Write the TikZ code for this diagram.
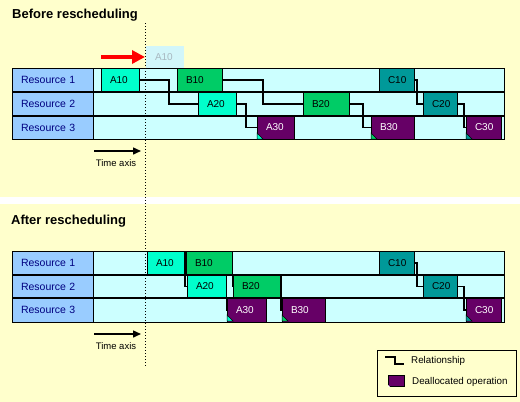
\documentclass[tikz,border=0pt]{standalone}
\usepackage{fontspec}
\setmainfont{Liberation Sans}
\usetikzlibrary{arrows.meta}
\definecolor{bg}{HTML}{FFFFCC}
\definecolor{labblue}{HTML}{99CCFF}
\definecolor{rowc}{HTML}{CCFFFF}
\definecolor{cA}{HTML}{00FFCC}
\definecolor{cB}{HTML}{00CC66}
\definecolor{cC}{HTML}{009999}
\definecolor{cP}{HTML}{660066}
\definecolor{navy}{HTML}{000080}
\definecolor{ghostc}{HTML}{D2F6FA}
\definecolor{ghosttxt}{HTML}{A8B8C0}
\begin{document}
\begin{tikzpicture}[x=1pt,y=-1pt,
  rowst/.style={draw=black, fill=rowc, line width=0.9pt},
  sep/.style={line width=1.8pt},
  lab/.style={draw=black, fill=labblue, text=navy, line width=0.9pt,
    font=\fontsize{10.5}{12}\selectfont, inner xsep=9pt, inner ysep=0pt,
    text width=63pt, align=left, minimum height=24pt, anchor=north west, outer sep=0pt},
  op/.style={draw=black, line width=0.7pt, inner xsep=9pt, inner ysep=0pt, outer sep=0pt,
    align=left, anchor=north west, font=\fontsize{10}{12}\selectfont},
  opA/.style={op, fill=cA},
  opB/.style={op, fill=cB},
  opC/.style={op, fill=cC},
  opP/.style={op, fill=cP, text=white},
  rel/.style={draw=black, line width=1.5pt},
  tri/.style={draw=black, line width=0.5pt},
  title/.style={font=\bfseries\fontsize{13}{15}\selectfont, anchor=base west, inner sep=0pt},
  axtxt/.style={font=\fontsize{9.5}{11}\selectfont, inner sep=0pt},
  legtxt/.style={font=\fontsize{9.8}{11}\selectfont, anchor=west, inner sep=0pt},
  taxis/.style={line width=1.5pt, -{Triangle[length=8pt,width=7pt]}}
]
\useasboundingbox (0,0) rectangle (520,402);
\fill[bg] (0,0) rectangle (520,402);
\fill[white] (0,197) rectangle (520,204);

% ---------------- Before ----------------
\node[title] (t1) at (12,18) {Before rescheduling};

\draw[rowst] (12,68) rectangle (504,92);
\draw[rowst] (12,92) rectangle (504,116);
\draw[rowst] (12,116) rectangle (504,139);
\node[lab] (uR1) at (12,68) {Resource 1};
\node[lab] (uR2) at (12,92) {Resource 2};
\node[lab, minimum height=23pt] (uR3) at (12,116) {Resource 3};

\node[op, fill=ghostc, draw=none, text=ghosttxt, text width=20pt, minimum height=22pt] (ghost) at (146,46) {A10};

\node[opA, text width=20pt, minimum height=24pt] (uA10) at (101,68) {A10};
\node[opB, text width=27pt, minimum height=24pt] (uB10) at (177,68) {B10};
\node[opC, text width=17pt, minimum height=24pt] (uC10) at (379,68) {C10};
\node[opA, text width=20pt, minimum height=24pt] (uA20) at (198,92) {A20};
\node[opB, text width=28pt, minimum height=24pt] (uB20) at (303,92) {B20};
\node[opC, text width=16pt, minimum height=24pt] (uC20) at (423,92) {C20};
\node[opP, text width=19pt, minimum height=23pt] (uA30) at (257,116) {A30};
\node[opP, text width=25pt, minimum height=23pt] (uB30) at (371,116) {B30};
\node[opP, text width=17pt, minimum height=23pt] (uC30) at (466,116) {C30};

\draw[tri, fill=cA] (uA30.south west) -- ++(0,-6) -- ++(6,6) -- cycle;
\draw[tri, fill=cB] (uB30.south west) -- ++(0,-6) -- ++(6,6) -- cycle;
\draw[tri, fill=cC] (uC30.south west) -- ++(0,-6) -- ++(6,6) -- cycle;

\draw[sep] (12,92) -- (504,92);
\draw[sep] (12,116) -- (504,116);

\draw[rel] (uA10.east) -- ++(30,0) |- (uA20.west);
\draw[rel] (uA20.east) -- ++(10,0) |- (uA30.west);
\draw[rel] (uB10.east) -- ++(41,0) |- (uB20.west);
\draw[rel] (uB20.east) -- ++(14,0) |- (uB30.west);
\draw[rel] (uC10.east) -- ++(3,0) |- (uC20.west);
\draw[rel] (uC20.east) -- ++(7,0) |- (uC30.west);

\coordinate (ra1) at (101,57);
\coordinate (ra2) at (145,57);
\draw[red, line width=3.6pt, -{Triangle[length=13pt,width=13pt]}] (ra1) -- (ra2);

\coordinate (ta1) at (94,151);
\coordinate (ta2) at (141,151);
\draw[taxis] (ta1) -- (ta2);
\node[axtxt] (tx1) at (116,163) {Time axis};

% ---------------- After ----------------
\node[title] (t2) at (11,224) {After rescheduling};

\draw[rowst] (12,251) rectangle (504,275);
\draw[rowst] (12,275) rectangle (504,298);
\draw[rowst] (12,298) rectangle (504,322);
\node[lab] (lR1) at (12,251) {Resource 1};
\node[lab, minimum height=23pt] (lR2) at (12,275) {Resource 2};
\node[lab] (lR3) at (12,298) {Resource 3};

\node[opA, text width=19pt, minimum height=24pt] (lA10) at (147,251) {A10};
\node[opB, text width=28pt, minimum height=24pt] (lB10) at (186,251) {B10};
\node[opC, text width=17pt, minimum height=24pt] (lC10) at (379,251) {C10};
\node[opA, text width=21pt, minimum height=23pt] (lA20) at (187,275) {A20};
\node[opB, text width=29pt, minimum height=23pt] (lB20) at (233,275) {B20};
\node[opC, text width=16pt, minimum height=23pt] (lC20) at (423,275) {C20};
\node[opP, text width=21pt, minimum height=24pt] (lA30) at (227,298) {A30};
\node[opP, text width=25pt, minimum height=24pt] (lB30) at (282,298) {B30};
\node[opP, text width=17pt, minimum height=24pt] (lC30) at (466,298) {C30};

\draw[tri, fill=cA] ([yshift=1pt]lA30.south west) -- ++(0,-6) -- ++(6,6) -- cycle;
\draw[tri, fill=cB] ([yshift=1pt]lB30.south west) -- ++(0,-6) -- ++(6,6) -- cycle;
\draw[tri, fill=cC] ([yshift=1pt]lC30.south west) -- ++(0,-6) -- ++(6,6) -- cycle;

\draw[sep] (12,275) -- (504,275);
\draw[sep] (12,298) -- (504,298);

\draw[rel] ([yshift=-1pt]lA10.north east) -- ++(1,0) |- (lA20.west);
\draw[rel] ([yshift=-1pt]lA20.north east) -- ++(0.5,0) |- (lA30.west);
\draw[rel] ([yshift=-1pt]lB10.north east) -- ++(0.5,0) |- (lB20.west);
\draw[rel] ([yshift=-1pt]lB20.north east) -- ++(1,0) |- (lB30.west);
\draw[rel] (lC10.east) -- ++(3,0) |- (lC20.west);
\draw[rel] (lC20.east) -- ++(7,0) |- (lC30.west);

\coordinate (tb1) at (94,334);
\coordinate (tb2) at (141,334);
\draw[taxis] (tb1) -- (tb2);
\node[axtxt] (tx2) at (116,346) {Time axis};

% ---------------- Legend ----------------
\node[draw=black, line width=0.9pt, fill=bg, minimum width=139pt, minimum height=46pt,
      anchor=north west, inner sep=0pt] (leg) at (377,350) {};
\coordinate (lg1) at (385,357);
\coordinate (lg2) at (404,364);
\draw[rel] (lg1) -- ++(10,0) |- (lg2);
\node[legtxt] (lgt1) at (411,361) {Relationship};
\node[draw=black, fill=cP, line width=0.8pt, minimum width=16pt, minimum height=11pt,
      anchor=north west, inner sep=0pt] (lgP) at (388,375) {};
\fill[white] (lgP.south west) -- ++(0,-2) -- ++(2,2) -- cycle;
\node[legtxt] (lgt2) at (412,382) {Deallocated operation};

% ---------------- time line ----------------
\draw[line width=0.8pt, dash pattern=on 1pt off 2pt] (145,23) -- (145,366);
\end{tikzpicture}
\end{document}
